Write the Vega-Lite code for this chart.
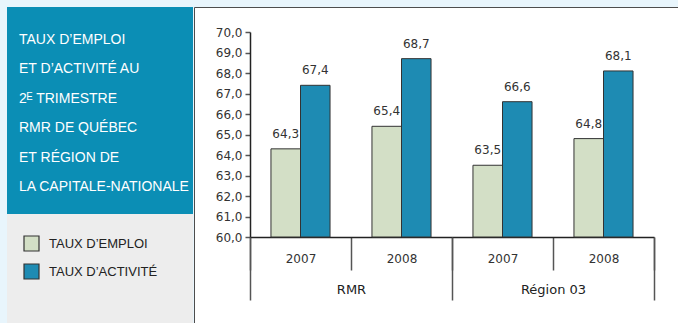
{
  "$schema": "https://vega.github.io/schema/vega-lite/v6.json",
  "background": "#E8F5FC",
  "padding": {"left": 7, "top": 6, "right": 0, "bottom": 0},
  "spacing": 0,
  "config": {
    "font": "DejaVu Sans",
    "locale": {"number": {"decimal": ",", "thousands": " ", "grouping": [3], "currency": ["", " $"]}},
    "concat": {"spacing": 0}
  },
  "resolve": {"scale": {"color": "shared"}, "legend": {"color": "shared"}},
  "hconcat": [
    {
      "spacing": 0,
      "bounds": "flush",
      "vconcat": [
        {
          "width": 186,
          "height": 207,
          "view": {"fill": "#0B8EB5", "stroke": null},
          "data": {"values": [
            {"ligne": 1, "texte": "TAUX D’EMPLOI"},
            {"ligne": 2, "texte": "ET D’ACTIVITÉ AU"},
            {"ligne": 3, "texte": "2ᴱ TRIMESTRE"},
            {"ligne": 4, "texte": "RMR DE QUÉBEC"},
            {"ligne": 5, "texte": "ET RÉGION DE"},
            {"ligne": 6, "texte": "LA CAPITALE-NATIONALE"}
          ]},
          "mark": {"type": "text", "align": "left", "baseline": "middle", "font": "Liberation Sans", "fontSize": 14, "color": "white"},
          "encoding": {
            "y": {"field": "ligne", "type": "ordinal", "scale": {"type": "point", "padding": 1.25, "align": 0.55}, "axis": null},
            "x": {"value": 12},
            "text": {"field": "texte"}
          }
        },
        {
          "width": 186,
          "height": 109,
          "view": {"fill": "#EDEDED", "stroke": null},
          "data": {"values": []},
          "mark": {"type": "point", "opacity": 0}
        }
      ]
    },
    {
      "width": 485,
      "height": 316,
      "view": {"fill": "white", "stroke": "#4D4D4D", "strokeWidth": 1},
      "data": {"values": [
        {"zone": "RMR", "cle": "RMR 2007", "serie": "TAUX D’EMPLOI", "taux": 64.3},
        {"zone": "RMR", "cle": "RMR 2007", "serie": "TAUX D’ACTIVITÉ", "taux": 67.4},
        {"zone": "RMR", "cle": "RMR 2008", "serie": "TAUX D’EMPLOI", "taux": 65.4},
        {"zone": "RMR", "cle": "RMR 2008", "serie": "TAUX D’ACTIVITÉ", "taux": 68.7},
        {"zone": "Région 03", "cle": "Région 03 2007", "serie": "TAUX D’EMPLOI", "taux": 63.5},
        {"zone": "Région 03", "cle": "Région 03 2007", "serie": "TAUX D’ACTIVITÉ", "taux": 66.6},
        {"zone": "Région 03", "cle": "Région 03 2008", "serie": "TAUX D’EMPLOI", "taux": 64.8},
        {"zone": "Région 03", "cle": "Région 03 2008", "serie": "TAUX D’ACTIVITÉ", "taux": 68.1}
      ]},
      "resolve": {"scale": {"x": "independent"}, "axis": {"x": "independent"}},
      "layer": [
        {
          "encoding": {
            "x": {
              "field": "cle", "type": "nominal", "sort": null,
              "scale": {"type": "band", "range": [56, 460], "paddingInner": 0, "paddingOuter": 0},
              "axis": {
                "orient": "bottom", "offset": -86, "title": null, "labelExpr": "slice(datum.label, -4)",
                "labelAngle": 0, "tickBand": "extent", "tickSize": 33, "tickColor": "#555555", "tickWidth": 1.5,
                "domainColor": "#222222", "domainWidth": 1.5, "labelPadding": -17, "labelFontSize": 12,
                "labelColor": "#333333", "grid": false
              }
            },
            "xOffset": {"field": "serie", "type": "nominal", "sort": ["TAUX D’EMPLOI", "TAUX D’ACTIVITÉ"], "scale": {"paddingOuter": 0.71, "paddingInner": 0}},
            "y": {
              "field": "taux", "type": "quantitative",
              "scale": {"domain": [60, 70], "range": [230, 25], "nice": false, "zero": false},
              "axis": {
                "orient": "left", "offset": -56, "title": null, "values": [60, 61, 62, 63, 64, 65, 66, 67, 68, 69, 70],
                "tickCount": 11, "format": ".1f", "tickSize": 5, "labelPadding": 3, "grid": false, "domainColor": "#222222",
                "domainWidth": 1.5, "tickColor": "#555555", "tickWidth": 1.5, "labelFontSize": 12, "labelColor": "#333333",
                "labelOverlap": false
              }
            }
          },
          "layer": [
            {
              "mark": {"type": "bar", "stroke": "#333333", "strokeWidth": 1},
              "encoding": {
                "y2": {"datum": 60},
                "color": {
                  "field": "serie", "type": "nominal", "sort": ["TAUX D’EMPLOI", "TAUX D’ACTIVITÉ"],
                  "scale": {"domain": ["TAUX D’EMPLOI", "TAUX D’ACTIVITÉ"], "range": ["#D3DFC6", "#1E8BB3"]},
                  "legend": {
                    "title": null, "orient": "none", "legendX": 16, "legendY": 228, "symbolType": "square",
                    "symbolSize": 225, "symbolStrokeColor": "#333333", "symbolStrokeWidth": 1.2, "symbolOpacity": 1,
                    "labelFont": "Liberation Sans", "labelFontSize": 13, "labelColor": "#222222", "labelOffset": 9,
                    "rowPadding": 7, "padding": 0, "labelLimit": 300
                  }
                }
              }
            },
            {
              "mark": {"type": "text", "baseline": "alphabetic", "dy": -11, "fontSize": 12, "color": "#333333"},
              "encoding": {
                "text": {"field": "taux", "type": "quantitative", "format": ".1f"}
              }
            }
          ]
        },
        {
          "mark": {"type": "point", "opacity": 0},
          "encoding": {
            "x": {
              "field": "zone", "type": "nominal", "sort": null,
              "scale": {"type": "band", "range": [56, 460], "paddingInner": 0, "paddingOuter": 0},
              "axis": {
                "orient": "bottom", "offset": -86, "title": null, "labelAngle": 0, "tickBand": "extent",
                "tickSize": 63, "tickColor": "#555555", "tickWidth": 1.5, "domain": false, "labelPadding": -17,
                "labelFontSize": 13, "labelColor": "#222222", "grid": false
              }
            }
          }
        }
      ]
    }
  ]
}
